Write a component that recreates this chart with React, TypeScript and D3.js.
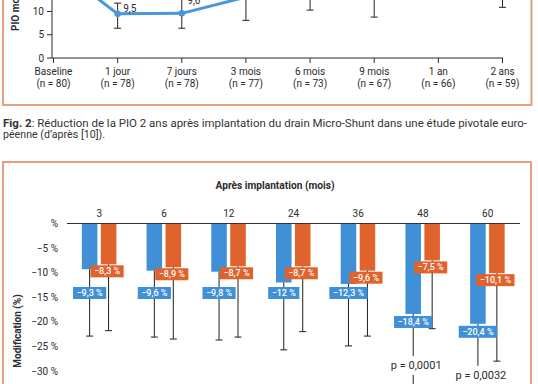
import React from 'react';
import * as d3 from 'd3';

const W = 538;
const H = 384;

// ---------- Top chart (Fig. 2 tail) ----------
const timeLabels = ['Baseline', '1 jour', '7 jours', '3 mois', '6 mois', '9 mois', '1 an', '2 ans'];
const nLabels = ['(n = 80)', '(n = 78)', '(n = 78)', '(n = 77)', '(n = 73)', '(n = 67)', '(n = 66)', '(n = 59)'];
const pioMean = [20.0, 9.5, 9.6, 13.1, 14.5, 13.6, 16.0, 14.2];
const pioLow = [16.5, 6.4, 6.4, 8.1, 10.3, 8.8, 13.0, 10.9];
const pioHigh = [23.5, 11.8, 13.6, 18.1, 18.7, 18.4, 19.0, 17.5];
const pointLabels = ['', '9,5', '9,6', '', '', '', '', ''];
const topTicks = [0, 5, 10];

// ---------- Bottom chart ----------
const months = ['3', '6', '12', '24', '36', '48', '60'];
const blueValues = [-9.3, -9.6, -9.8, -12, -12.3, -18.4, -20.4];
const orangeValues = [-8.3, -8.9, -8.7, -8.7, -9.6, -7.5, -10.1];
const blueErrLow = [-22.9, -23.1, -23.7, -25.7, -24.9, -36, -39];
const orangeErrLow = [-21.8, -23.5, -23.1, -22.0, -22.9, -21.4, -28.0];
const pValues = ['', '', '', '', '', 'p = 0,0001', 'p = 0,0032'];
const pctTicks = [0, -5, -10, -15, -20, -25, -30];

const BLUE = '#3f90d6';
const ORANGE = '#e0632d';
const LINE_BLUE = '#4797da';
const FRAME = '#e59f7c';
const TEXT = '#2b2b2b';
const FONT = 'Roboto, "Open Sans", sans-serif';

let ctx: CanvasRenderingContext2D | null = null;
function measure(text: string, font: string): number {
  if (!ctx) ctx = document.createElement('canvas').getContext('2d');
  if (!ctx) return text.length * 5;
  ctx.font = font;
  return ctx.measureText(text).width;
}

const fmtPct = (v: number) => v.toString().replace('.', ',').replace('-', '−') + ' %';

export default function App() {
  // top scales
  const xTop = d3.scalePoint<string>().domain(timeLabels).range([53.5, 502.5]);
  const yTop = d3.scaleLinear().domain([0, 10]).range([58, 11.5]);
  const line = d3
    .line<number>()
    .x((_, i) => xTop(timeLabels[i]) as number)
    .y((d) => yTop(d));

  // bottom scales
  const x0 = d3.scaleBand<string>().domain(months).range([67, 520]).paddingInner(0).paddingOuter(0);
  const bw = x0.bandwidth();
  const x1 = d3
    .scaleBand<string>()
    .domain(['blue', 'orange'])
    .range([bw / 2 - 17.5, bw / 2 + 17])
    .paddingInner(0.18);
  const y = d3.scaleLinear().domain([0, -30]).range([223.5, 371]);

  const labelFont = `500 9px ${FONT}`;
  const boxH = 12;

  return (
    <div style={{ position: 'absolute', left: 0, top: 0, width: W, height: H, background: '#fff' }}>
      <svg width={W} height={H} style={{ display: 'block', fontFamily: FONT }}>
        <rect x={0} y={0} width={W} height={H} fill="#ffffff" />

        {/* ===== Top panel frame ===== */}
        <rect x={3} y={-20} width={528.5} height={125} fill="none" stroke={FRAME} strokeWidth={2} />

        {/* top y axis */}
        <line x1={52} x2={52} y1={-2} y2={58} stroke={TEXT} strokeWidth={1} />
        {topTicks.map((t) => (
          <g key={'tt' + t}>
            <line x1={47} x2={52} y1={yTop(t)} y2={yTop(t)} stroke={TEXT} />
            <text x={44} y={yTop(t) + 3.5} textAnchor="end" fontSize={10} fill={TEXT}>
              {t}
            </text>
          </g>
        ))}
        <text
          transform="translate(19,31) rotate(-90)"
          textAnchor="start"
          fontSize={10}
          fontWeight="bold"
          fill={TEXT}
        >
          PIO moyenne (mmHg)
        </text>

        {/* top x axis */}
        <line x1={52} x2={503} y1={58} y2={58} stroke={TEXT} />
        {timeLabels.map((t, i) => {
          const cx = xTop(t) as number;
          return (
            <g key={'tx' + t}>
              <line x1={cx} x2={cx} y1={58} y2={63} stroke={TEXT} />
              <text x={cx} y={75} textAnchor="middle" fontSize={10} fill={TEXT}>
                {t}
              </text>
              <text x={cx} y={86.5} textAnchor="middle" fontSize={10} fill={TEXT}>
                {nLabels[i]}
              </text>
            </g>
          );
        })}

        {/* top error bars */}
        {timeLabels.map((t, i) => {
          const cx = xTop(t) as number;
          const yl = yTop(pioLow[i]);
          const yh = yTop(pioHigh[i]);
          if (i === 0) return null;
          return (
            <g key={'te' + t} stroke="#222" strokeWidth={1}>
              <line x1={cx} x2={cx} y1={yl} y2={yh} />
              <line x1={cx - 3.5} x2={cx + 3.5} y1={yl} y2={yl} />
              <line x1={cx - 3.5} x2={cx + 3.5} y1={yh} y2={yh} />
            </g>
          );
        })}

        {/* top line */}
        <path d={line(pioMean) || ''} fill="none" stroke={LINE_BLUE} strokeWidth={3} strokeLinejoin="round" />
        {pioMean.map((v, i) => (
          <circle key={'pt' + i} cx={xTop(timeLabels[i]) as number} cy={yTop(v)} r={3.3} fill={LINE_BLUE} />
        ))}
        {pointLabels.map((l, i) =>
          l ? (
            <text
              key={'pl' + i}
              x={(xTop(timeLabels[i]) as number) + 5.5}
              y={yTop(pioHigh[i]) + 9}
              fontSize={10}
              fill={TEXT}
            >
              {l}
            </text>
          ) : null
        )}

        {/* ===== Caption ===== */}
        <text x={3} y={127} fontSize={10} fill="#333" textLength={524} lengthAdjust="spacingAndGlyphs">
          <tspan fontWeight="bold">Fig. 2</tspan>
          <tspan>: Réduction de la PIO 2 ans après implantation du drain Micro-Shunt dans une étude pivotale euro-</tspan>
        </text>
        <text x={3} y={137.5} fontSize={10} fill="#333" textLength={102} lengthAdjust="spacingAndGlyphs">
          péenne (d’après [10]).
        </text>

        {/* ===== Bottom panel frame ===== */}
        <rect x={3} y={162} width={528} height={260} fill="none" stroke={FRAME} strokeWidth={2} />

        <text
          x={275}
          y={188.5}
          textAnchor="middle"
          fontSize={10}
          fontWeight="bold"
          fill={TEXT}
          textLength={119}
          lengthAdjust="spacingAndGlyphs"
        >
          Après implantation (mois)
        </text>

        {/* y ticks */}
        {pctTicks.map((t) => (
          <text key={'yt' + t} x={58} y={y(t) + 3.5} textAnchor="end" fontSize={10} fill={TEXT}>
            {t === 0 ? '%' : fmtPct(t)}
          </text>
        ))}
        <text
          transform="translate(21,331) rotate(-90)"
          textAnchor="middle"
          fontSize={10}
          fontWeight="bold"
          fill={TEXT}
        >
          Modification (%)
        </text>

        {/* category labels */}
        {months.map((m) => (
          <text
            key={'cm' + m}
            x={(x0(m) as number) + bw / 2}
            y={217}
            textAnchor="middle"
            fontSize={10}
            fill={TEXT}
          >
            {m}
          </text>
        ))}

        {/* bars */}
        {months.map((m, i) => {
          const gx = x0(m) as number;
          const bx = gx + (x1('blue') as number);
          const ox = gx + (x1('orange') as number);
          const w = x1.bandwidth();
          return (
            <g key={'bar' + m}>
              <rect x={bx} y={y(0)} width={w} height={y(blueValues[i]) - y(0)} fill={BLUE} />
              <rect x={ox} y={y(0)} width={w} height={y(orangeValues[i]) - y(0)} fill={ORANGE} />
            </g>
          );
        })}

        {/* error bars + labels */}
        {months.map((m, i) => {
          const gx = x0(m) as number;
          const w = x1.bandwidth();
          const bcx = gx + (x1('blue') as number) + w / 2;
          const ocx = gx + (x1('orange') as number) + w / 2;
          const yb = y(blueValues[i]);
          const yo = y(orangeValues[i]);
          const ybl = y(blueErrLow[i]);
          const yol = y(orangeErrLow[i]);
          const oText = fmtPct(orangeValues[i]);
          const bText = fmtPct(blueValues[i]);
          const oW = measure(oText, labelFont) + 7;
          const bW = measure(bText, labelFont) + 7;
          const oTop = yo + 1;
          const bTop = Math.max(yb + 2, 287);
          const p = pValues[i];
          const pY = bTop + boxH + 37;
          const pW = measure(p, `11px ${FONT}`);
          return (
            <g key={'lab' + m}>
              <g stroke="#1f1f1f" strokeWidth={1}>
                <line x1={bcx} x2={bcx} y1={yb} y2={ybl} />
                <line x1={bcx - 3.5} x2={bcx + 3.5} y1={ybl} y2={ybl} />
                <line x1={ocx} x2={ocx} y1={yo} y2={yol} />
                <line x1={ocx - 3.5} x2={ocx + 3.5} y1={yol} y2={yol} />
              </g>
              <rect x={ocx - oW / 2 - 1.5} y={oTop} width={oW} height={boxH} fill={ORANGE} />
              <text x={ocx - 1.5} y={oTop + 9} textAnchor="middle" fontSize={9} fontWeight={500} fill="#fff">
                {oText}
              </text>
              <rect x={bcx - bW / 2} y={bTop} width={bW} height={boxH} fill={BLUE} />
              <text x={bcx} y={bTop + 9} textAnchor="middle" fontSize={9} fontWeight={500} fill="#fff">
                {bText}
              </text>
              {p ? (
                <g>
                  <rect x={bcx - pW / 2 - 2} y={pY - 9} width={pW + 4} height={19} fill="#fff" />
                  <text x={bcx + 3} y={pY + 4} textAnchor="middle" fontSize={11} fill={TEXT}>
                    {p}
                  </text>
                </g>
              ) : null}
            </g>
          );
        })}

        {/* zero line */}
        <line x1={67} x2={520} y1={y(0)} y2={y(0)} stroke="#333" strokeWidth={1} />
      </svg>
    </div>
  );
}
